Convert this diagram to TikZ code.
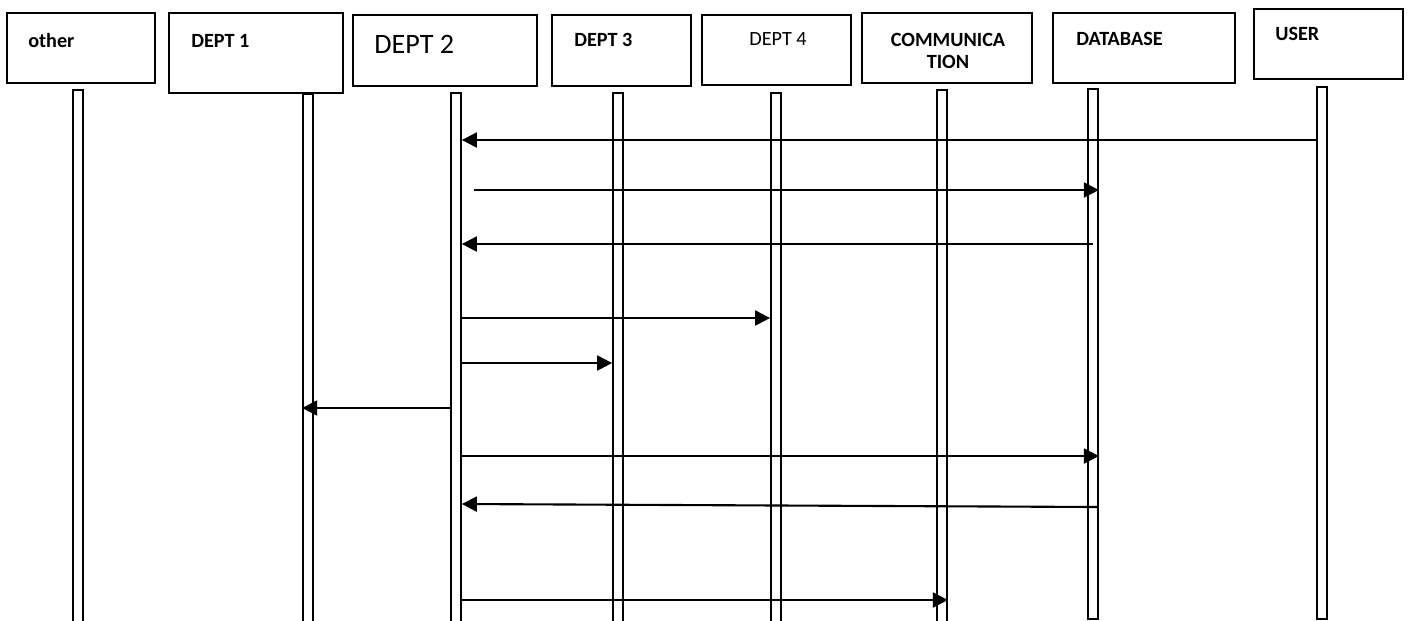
\documentclass[tikz,border=0pt]{standalone}
\usepackage{fontspec}
\setmainfont{Carlito}
\usetikzlibrary{arrows.meta,calc}

\tikzset{
  box/.style={draw, line width=0.9pt, inner sep=0pt, minimum height=1.4cm},
  life/.style={draw, line width=1pt, inner sep=0pt, minimum width=0.2cm, anchor=north},
  msg/.style={line width=1.2pt, -{Triangle[length=8.5pt,width=8.5pt]}},
  lbl/.style={font=\bfseries\fontsize{11.5}{13}\selectfont, inner sep=0pt, anchor=west},
}

\begin{document}
\begin{tikzpicture}[x=0.02cm, y=-0.02cm]
\useasboundingbox (0,0) rectangle (1408,620);
% header boxes
\node[box, minimum width=2.96cm] (otherbox) at (81,48) {};
\node[box, minimum width=3.48cm, minimum height=1.6cm] (dept1box) at (256,53) {};
\node[box, minimum width=3.68cm, minimum height=1.42cm] (dept2box) at (445,50.5) {};
\node[box, minimum width=2.78cm, minimum height=1.42cm] (dept3box) at (621.5,50.5) {};
\node[box, minimum width=2.98cm] (dept4box) at (776.5,50) {};
\node[box, minimum width=3.4cm] (commbox) at (947,48) {};
\node[box, minimum width=3.64cm] (dbbox) at (1144,48) {};
\node[box, minimum width=2.98cm] (userbox) at (1328.5,44) {};
% header texts
\node[lbl] (otherlbl) at (28,40) {other};
\node[lbl] (dept1lbl) at (191,41) {DEPT 1};
\node[lbl, font=\fontsize{16}{19}\selectfont] (dept2lbl) at (374,44) {DEPT 2};
\node[lbl] (dept3lbl) at (574,40) {DEPT 3};
\node[lbl, font=\fontsize{11.5}{13}\selectfont] (dept4lbl) at (749,39) {DEPT 4};
\node[lbl, anchor=center, align=center, font=\bfseries\fontsize{11.5}{13}\selectfont] (commlbl) at (948,51) {COMMUNICA\\TION};
\node[lbl] (dblbl) at (1076,39) {DATABASE};
\node[lbl] (userlbl) at (1275,34) {USER};
% lifelines
\foreach \n/\x/\t/\b in {other/78/89/630, dept1/308/93/630, dept2/456/92/630,
  dept3/618/92/630, dept4/776/92/630, comm/942/89/630, db/1093/88/618, user/1322/86/618}{
  \pgfmathsetmacro\h{(\b-\t)*0.02}
  \node[life, minimum height=\h cm] (\n) at (\x,\t) {};
}
% messages
\draw[msg] (user.west |- 0,140) -- (dept2.east |- 0,140);
\draw[msg] ($(dept2.east |- 0,190)+(12,0)$) -- (db.east |- 0,190);
\draw[msg] (db.center |- 0,244) -- (dept2.east |- 0,244);
\draw[msg] (dept2.east |- 0,318) -- (dept4.west |- 0,318);
\draw[msg] (dept2.east |- 0,363) -- (dept3.west |- 0,363);
\draw[msg] (dept2.west |- 0,408) -- (dept1.west |- 0,408);
\draw[msg] (dept2.east |- 0,456) -- (db.east |- 0,456);
\draw[msg] (db.east |- 0,507) -- (dept2.east |- 0,504);
\draw[msg] (dept2.east |- 0,600) -- (comm.east |- 0,600);
\end{tikzpicture}
\end{document}
